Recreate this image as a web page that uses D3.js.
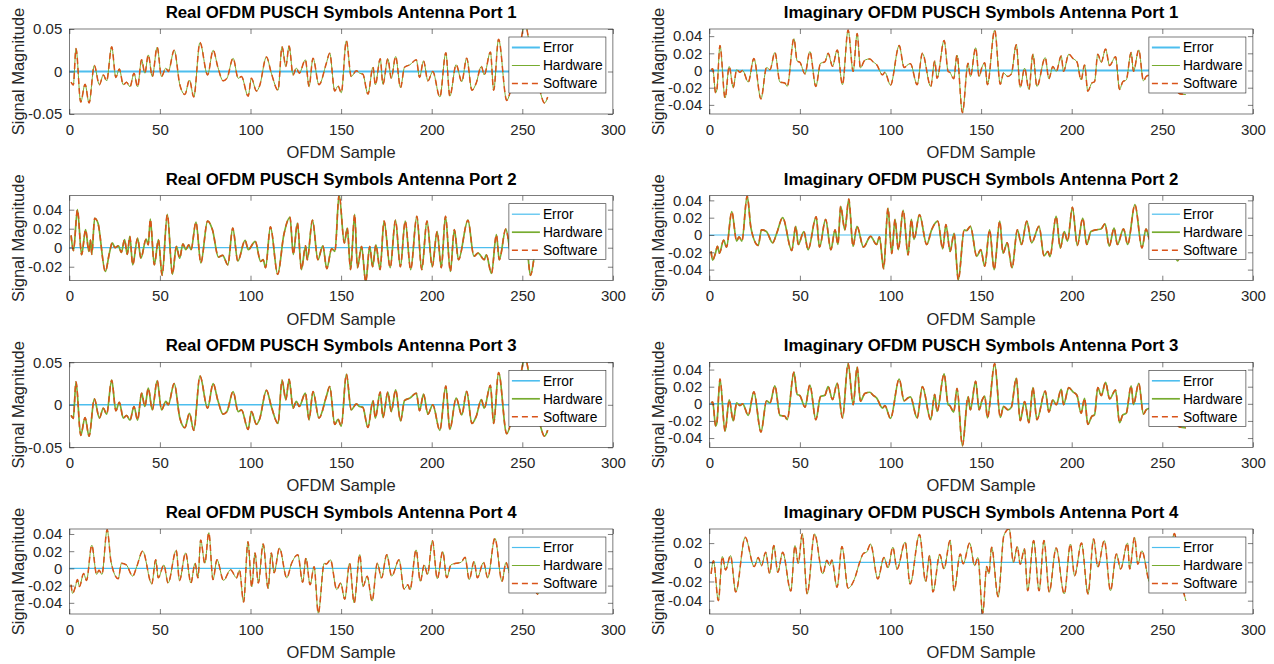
<!DOCTYPE html>
<html lang="en">

<head>
  <meta charset="UTF-8">
  <title>OFDM PUSCH symbols</title>
  <script src="https://d3js.org/d3.v7.min.js"></script>
  <style>
    body { margin: 0; background: #fff; }
    svg text { font-family: "Liberation Sans", Arial, Helvetica, sans-serif; }
  </style>
</head>

<body>
  <svg id="chart" width="1274" height="664"></svg>

  <script>
    // values: sample index and signal magnitude (hardware == software)
    const realPort1Sample = [1, 2.2, 3.7, 6.3, 8.7, 10.9, 13.8, 16.6, 18.8, 20.6, 23.4, 25.7, 27.6, 29.8, 31.6, 33.5, 35.7, 37.7, 39.9, 41.7, 43.6, 45.8, 48.5, 50.9, 53.3, 54.6, 57.9, 61, 63.8, 66.3, 68.7, 72.1, 76.3, 79.4, 82, 84.9, 87, 90.4, 93.2, 95, 98.7, 100.5, 103.3, 105, 108.8, 111.5, 115.2, 117.4, 119.5, 121.3, 123.5, 125.3, 126.9, 130.3, 132.3, 134.5, 137.8, 141.9, 143.7, 146.5, 148.3, 150.1, 152.9, 155.6, 158.4, 160.2, 162, 164.8, 167.6, 168.9, 171.6, 173.1, 175.8, 177.7, 180.1, 182.8, 185, 188, 191.5, 193.3, 195.5, 197.9, 200.6, 204.5, 207.8, 210, 213.5, 216.6, 219.3, 222.2, 224.5, 227.4, 229, 232.4, 234.2, 236.9, 241.4, 245, 248, 251.5, 254.5, 257, 259.5, 262.3, 264];
    const realPort1Value = [-0.0125, -0.016, 0.027, -0.036, -0.015, -0.037, 0.007, -0.0156, -0.004, -0.011, 0.029, -0.007, 0.003, -0.0156, -0.0125, -0.018, -0.002, -0.018, 0.0137, -0.002, 0.0195, -0.006, 0.0285, -0.006, 0.004, 0.0, 0.025, -0.0156, -0.027, -0.01, -0.03, 0.034, -0.004, 0.025, 0.005, -0.011, -0.008, 0.0156, -0.008, -0.006, -0.029, -0.008, -0.023, -0.017, 0.017, -0.002, -0.022, 0.029, 0.006, 0.030, -0.004, 0.004, -0.002, 0.0137, -0.0176, 0.0156, -0.0156, 0.01, 0.0215, -0.023, -0.017, -0.025, 0.036, -0.006, 0.001, -0.002, -0.003, -0.0266, 0.005, -0.0156, 0.015, -0.015, 0.015, -0.008, 0.0176, -0.019, 0.005, 0.008, 0.0137, -0.007, 0.0125, -0.011, 0.0, -0.030, 0.022, -0.029, 0.008, -0.012, 0.0157, -0.022, -0.014, 0.006, -0.004, 0.023, -0.022, 0.038, -0.034, -0.008, 0.02, 0.056, 0.025, 0.0, -0.021, -0.037, -0.03];

    const imagPort1Sample = [1, 1.9, 3.5, 4.2, 5.9, 8.7, 11, 13.2, 15.1, 16.9, 18.4, 21.5, 24.6, 28.5, 31.6, 33.5, 36.2, 39, 41.7, 43, 46.7, 48.5, 50, 52.8, 55.5, 58.8, 61.4, 63.8, 65.6, 68, 70.6, 73.5, 76.6, 79.4, 81.6, 83.4, 85.8, 88.6, 90.4, 92.3, 95.6, 96.9, 100, 104.8, 107.5, 109.7, 111, 114.7, 117.6, 122.2, 124.4, 125.7, 129.6, 131.8, 132.7, 134.9, 136.7, 139.7, 142.8, 144.1, 147, 148.9, 150.5, 152, 153.5, 157.5, 160.6, 162.4, 164.8, 166.7, 169.4, 171.6, 174, 176.4, 178.6, 180.8, 185.4, 187.4, 189.6, 191.5, 194.2, 195.5, 198.4, 200.7, 202.9, 205.2, 207.1, 208.9, 211.1, 212.6, 214.4, 216.3, 218.7, 220.9, 224.2, 226.4, 228.2, 230.1, 232.8, 234.1, 237, 239.6, 241.1, 244, 247, 250, 253, 256, 259.5, 263];
    const imagPort1Value = [0.001, 0.002, -0.026, -0.022, 0.029, -0.032, 0.0046, -0.02, 0.001, -0.002, 0.0, -0.0135, 0.014, -0.033, 0.0035, 0.001, 0.021, -0.0135, -0.0146, -0.0185, 0.037, 0.011, 0.0096, -0.004, 0.022, -0.0185, 0.0085, 0.010, 0.020, 0.005, 0.024, -0.0165, 0.047, -0.001, 0.043, 0.003, 0.012, 0.0135, 0.010, 0.007, -0.005, -0.002, -0.017, 0.029, 0.0035, 0.007, 0.008, -0.0165, 0.02, -0.0185, 0.011, -0.009, 0.035, -0.001, -0.002, -0.0096, 0.018, -0.049, 0.0085, -0.007, 0.0265, -0.007, 0.004, 0.009, -0.0165, 0.047, -0.016, -0.003, -0.007, -0.004, 0.030, -0.0196, 0.0027, -0.022, 0.019, -0.0185, 0.015, -0.0096, 0.0046, -0.001, 0.017, -0.001, 0.019, 0.014, 0.010, -0.011, 0.0065, -0.024, -0.0146, -0.013, 0.019, 0.0096, 0.025, 0.0058, 0.016, -0.022, -0.013, -0.011, 0.021, -0.001, 0.024, -0.012, -0.007, -0.004, 0.01, -0.005, 0.008, -0.012, -0.027, -0.028];

    const realPort2Sample = [1, 2.3, 4.5, 6.8, 9, 10.8, 11.7, 12.4, 14, 15.8, 19.9, 22.1, 23.7, 25.3, 27.1, 28.7, 30.5, 32, 33.4, 35, 37.7, 39.5, 42.4, 43.6, 44.7, 46.9, 49.2, 51.2, 54.1, 56.9, 59.1, 60.9, 62.7, 64.3, 65.9, 67.2, 69.9, 72.6, 76.3, 79, 82.3, 84.6, 87.5, 90.2, 93, 97, 98.8, 102.6, 105.6, 107, 108.3, 111, 115, 118.4, 121.8, 123.6, 125.9, 128.1, 130.4, 131.3, 134.2, 137.2, 139.9, 142.1, 144.8, 146.6, 148.9, 151.8, 153.4, 155.2, 157.5, 159, 161.3, 163.6, 165.8, 167.4, 169.2, 171.5, 173.7, 177.1, 180, 182.7, 185.4, 188.4, 191.8, 194.5, 197.4, 200.3, 203, 205.3, 207.6, 210.3, 212.5, 214.8, 220, 223.3, 225.6, 229, 230.1, 233, 235.7, 237.3, 240.9, 244, 247, 250, 252.2, 254.5, 256.5];
    const realPort2Value = [0.013, -0.003, 0.040, -0.0074, 0.019, -0.004, 0.008, -0.007, 0.031, 0.026, -0.025, -0.006, 0.005, 0.0, 0.002, -0.005, 0.0084, -0.007, 0.012, -0.018, 0.010, -0.011, 0.009, 0.003, 0.030, -0.018, 0.0084, -0.029, 0.035, -0.028, 0.0014, -0.011, 0.004, -0.002, 0.003, -0.002, 0.027, -0.016, 0.028, 0.019, -0.0098, -0.008, -0.018, 0.0207, -0.014, 0.0077, -0.002, 0.0067, -0.0144, -0.0126, -0.021, 0.022, -0.028, 0.0137, 0.032, -0.007, 0.026, -0.023, 0.002, -0.0126, 0.029, -0.0126, 0.002, -0.022, -0.001, -0.004, 0.056, 0.005, 0.0207, -0.023, 0.035, -0.021, 0.0014, -0.036, 0.0014, -0.02, 0.003, -0.023, 0.028, -0.021, 0.029, -0.02, 0.028, -0.023, 0.033, -0.023, 0.028, -0.02, 0.017, -0.021, 0.033, -0.025, 0.019, -0.0126, 0.029, -0.009, -0.0056, -0.0126, -0.0074, -0.027, 0.0137, -0.0126, 0.0197, -0.008, 0.012, -0.005, 0.004, -0.029, -0.01];

    const imagPort2Sample = [1, 1.8, 3.4, 4.5, 5.6, 7.9, 9.5, 12.4, 15.1, 16.4, 18, 20.9, 23, 27, 28.8, 31.5, 35, 37.2, 40.5, 45.5, 47.7, 49.1, 52.2, 54.5, 59, 60.8, 64.2, 67.1, 69.4, 71, 72.5, 74.8, 77, 79.3, 81.5, 85.1, 89, 92.3, 93.9, 96.2, 98.6, 100.7, 102.5, 104.3, 107, 109.7, 111.5, 113, 116, 120, 122.7, 126.1, 128.8, 130.6, 132.9, 135.1, 137.4, 140.7, 141.9, 144.1, 147.6, 149.8, 152, 154.7, 157.2, 160.3, 162.1, 164.4, 167.1, 170, 172.3, 175.2, 177.9, 182, 184.7, 186.9, 188, 191.4, 193.7, 195.9, 197.7, 200.4, 203.1, 206.1, 208.3, 210.6, 213.5, 216.2, 218.4, 220.7, 223.4, 225.2, 228.6, 230.9, 234.9, 238.8, 241, 243.2, 246, 249, 252, 255, 258.5, 260];
    const imagPort2Value = [-0.019, -0.029, -0.021, -0.013, -0.021, -0.006, -0.014, 0.027, -0.007, -0.002, -0.007, 0.045, 0.008, -0.012, 0.006, 0.004, -0.009, 0.002, 0.020, -0.018, 0.010, -0.011, 0.004, -0.017, 0.021, -0.014, 0.018, -0.017, 0.006, -0.011, 0.033, 0.006, 0.0415, -0.013, 0.010, -0.014, -0.0015, -0.011, -0.002, -0.039, 0.031, -0.0215, 0.018, -0.017, 0.0285, -0.023, 0.018, -0.005, 0.0235, -0.011, 0.006, 0.016, -0.016, 0.012, -0.019, 0.002, -0.052, 0.006, 0.005, 0.010, -0.0246, -0.017, -0.036, 0.006, -0.040, 0.016, -0.021, -0.009, -0.038, 0.006, -0.011, 0.016, -0.009, 0.010, -0.024, -0.019, -0.025, 0.0215, -0.015, 0.004, -0.007, 0.032, -0.012, 0.0196, -0.011, 0.004, 0.006, 0.007, 0.013, -0.013, 0.008, -0.011, 0.007, -0.011, 0.035, -0.015, 0.007, -0.006, 0.005, -0.012, 0.004, -0.01, -0.030, -0.02];

    const imagPort4Sample = [1, 2.3, 5, 7.2, 9, 11.7, 14.6, 19.8, 24.8, 27, 28.8, 31.1, 33.3, 35.6, 37.8, 40.5, 45, 47.3, 49.1, 51.3, 54, 58.1, 62.6, 64.9, 66.4, 67.6, 70.5, 73.2, 76.6, 80, 83, 85.1, 86.7, 89, 93, 96.4, 98.6, 101.3, 103.6, 108.1, 110.8, 116, 119.4, 121.6, 123.4, 127.2, 129.5, 132.9, 135.1, 138.5, 140.1, 143.7, 146.4, 148.2, 150.9, 153.1, 154.3, 155.8, 159.4, 162.6, 165.5, 167.8, 170, 171.6, 173.9, 175.7, 179, 182, 184.7, 187.6, 191.4, 195.9, 199.3, 201.6, 205.4, 209, 212.1, 214.4, 218, 221.4, 224.7, 227, 230.8, 232, 234.7, 236.5, 238.7, 243.2, 246, 249, 252, 254, 256.7, 259.5, 263];
    const imagPort4Value = [-0.012, 0.0017, -0.040, 0.006, -0.008, 0.007, -0.031, 0.026, -0.0045, 0.005, -0.0035, 0.0104, -0.0115, 0.0174, -0.0104, 0.0104, -0.030, 0.0174, -0.001, 0.0296, -0.033, 0.0296, -0.012, 0.002, -0.0035, 0.0024, -0.026, 0.0164, -0.027, -0.018, 0.0, 0.0094, 0.0104, 0.019, -0.0174, 0.005, -0.006, 0.0157, -0.007, 0.021, -0.0226, 0.029, -0.020, 0.007, -0.031, 0.008, -0.007, 0.0226, -0.0296, 0.0087, -0.0017, 0.020, -0.0035, 0.005, -0.053, -0.0045, -0.012, 0.0157, -0.036, 0.028, 0.035, 0.0, 0.0164, -0.002, 0.014, -0.0296, 0.0226, -0.0296, 0.0226, -0.031, 0.015, -0.033, 0.019, -0.014, 0.020, -0.033, 0.0244, -0.005, 0.0226, -0.0296, 0.0087, -0.007, 0.020, -0.007, 0.026, -0.002, 0.012, -0.021, -0.005, 0.008, -0.012, 0.005, 0.030, -0.01, -0.040];

    // ports 3 match ports 1, and real port 4 matches imaginary port 2 in the picture
    const realPort3Sample = realPort1Sample, realPort3Value = realPort1Value;
    const imagPort3Sample = imagPort1Sample, imagPort3Value = imagPort1Value;
    const realPort4Sample = imagPort2Sample, realPort4Value = imagPort2Value;

    // error between hardware and software: flat zero
    const errorSample = [0, 264];
    const errorValue = [0, 0];

    const xTicks = [0, 50, 100, 150, 200, 250, 300];
    const ticks05 = [-0.05, 0, 0.05];
    const ticks04 = [-0.04, -0.02, 0, 0.02, 0.04];
    const ticksR2 = [-0.02, 0, 0.02, 0.04];
    const ticksI4 = [-0.04, -0.02, 0, 0.02];

    const titles = [
      "Real OFDM PUSCH Symbols Antenna Port 1", "Imaginary OFDM PUSCH Symbols Antenna Port 1",
      "Real OFDM PUSCH Symbols Antenna Port 2", "Imaginary OFDM PUSCH Symbols Antenna Port 2",
      "Real OFDM PUSCH Symbols Antenna Port 3", "Imaginary OFDM PUSCH Symbols Antenna Port 3",
      "Real OFDM PUSCH Symbols Antenna Port 4", "Imaginary OFDM PUSCH Symbols Antenna Port 4"
    ];
    const legendLabels = ["Error", "Hardware", "Software"];

    const panels = [
      { xs: realPort1Sample, ys: realPort1Value, dom: [-0.05, 0.05], ticks: ticks05 },
      { xs: imagPort1Sample, ys: imagPort1Value, dom: [-0.0506, 0.0483], ticks: ticks04 },
      { xs: realPort2Sample, ys: realPort2Value, dom: [-0.0347, 0.0547], ticks: ticksR2 },
      { xs: imagPort2Sample, ys: imagPort2Value, dom: [-0.0528, 0.0454], ticks: ticks04 },
      { xs: realPort3Sample, ys: realPort3Value, dom: [-0.05, 0.05], ticks: ticks05 },
      { xs: imagPort3Sample, ys: imagPort3Value, dom: [-0.0508, 0.0485], ticks: ticks04 },
      { xs: realPort4Sample, ys: realPort4Value, dom: [-0.053, 0.0458], ticks: ticks04 },
      { xs: imagPort4Sample, ys: imagPort4Value, dom: [-0.0539, 0.0347], ticks: ticksI4 }
    ];

    // layout
    const colLeft = [69.3, 709.3];
    const rowTop = [29, 195.7, 362.3, 529];
    const axW = 543.6, axH = 85;
    const errW = [2, 1.2, 1.6, 1.2];
    const hwW = [1, 1.7, 1.7, 1];
    const cErr = "#4DBEEE", cHw = "#77AC30", cSw = "#D95319", cAx = "#262626";

    const svg = d3.select("#chart");

    panels.forEach((p, i) => {
      const row = Math.floor(i / 2), col = i % 2;
      const g = svg.append("g").attr("transform", `translate(${colLeft[col]},${rowTop[row]})`);

      const x = d3.scaleLinear().domain([0, 300]).range([0, axW]);
      const y = d3.scaleLinear().domain(p.dom).range([axH, 0]);

      g.append("rect").attr("width", axW).attr("height", axH).attr("fill", "#fff");

      g.append("clipPath").attr("id", "clip" + i)
        .append("rect").attr("width", axW).attr("height", axH);

      const pts = p.xs.map((d, k) => [d, p.ys[k]]);
      const errPts = errorSample.map((d, k) => [d, errorValue[k]]);
      const line = d3.line().x(d => x(d[0])).y(d => y(d[1])).curve(d3.curveMonotoneX);

      const plot = g.append("g").attr("clip-path", `url(#clip${i})`);
      plot.append("path").attr("d", line(errPts)).attr("fill", "none")
        .attr("stroke", cErr).attr("stroke-width", errW[row]);
      plot.append("path").attr("d", line(pts)).attr("fill", "none")
        .attr("stroke", cHw).attr("stroke-width", hwW[row]);
      plot.append("path").attr("d", line(pts)).attr("fill", "none")
        .attr("stroke", cSw).attr("stroke-width", 1.5).attr("stroke-dasharray", "6,4");

      // axes, ticks pointing inward on all four sides
      g.append("g").attr("transform", `translate(0,${axH})`)
        .call(d3.axisBottom(x).tickValues(xTicks).tickSize(-5).tickPadding(10));
      g.append("g").call(d3.axisTop(x).tickValues(xTicks).tickSize(-5).tickFormat(""));
      g.append("g")
        .call(d3.axisLeft(y).tickValues(p.ticks).tickSize(-5).tickPadding(7).tickFormat(d => d === 0 ? "0" : d));
      g.append("g").attr("transform", `translate(${axW},0)`)
        .call(d3.axisRight(y).tickValues(p.ticks).tickSize(-5).tickFormat(""));

      g.selectAll(".domain").remove();
      g.selectAll(".tick line").attr("stroke", cAx).attr("stroke-width", 0.6);
      g.selectAll(".tick text").attr("fill", cAx).style("font-size", "15px");

      g.append("rect").attr("width", axW).attr("height", axH).attr("fill", "none")
        .attr("stroke", cAx).attr("stroke-width", 0.6);

      g.append("text").attr("x", axW / 2).attr("y", -11).attr("text-anchor", "middle")
        .style("font-size", "16.8px").style("font-weight", "bold").attr("fill", "#000")
        .text(titles[i]);
      g.append("text").attr("x", axW / 2).attr("y", axH + 44).attr("text-anchor", "middle")
        .style("font-size", "16.5px").attr("fill", cAx).text("OFDM Sample");
      g.append("text").attr("transform", `translate(-45,${axH / 2}) rotate(-90)`)
        .attr("text-anchor", "middle").style("font-size", "16.5px").attr("fill", cAx)
        .text("Signal Magnitude");

      // legend
      const lg = g.append("g").attr("transform", `translate(${axW - 104},8)`);
      lg.append("rect").attr("width", 97).attr("height", 56).attr("fill", "#fff")
        .attr("stroke", cAx).attr("stroke-width", 0.6);
      const styles = [
        { c: cErr, w: errW[row], dash: null },
        { c: cHw, w: hwW[row], dash: null },
        { c: cSw, w: 1.5, dash: "6,4" }
      ];
      legendLabels.forEach((lab, k) => {
        const yy = 10.5 + k * 18;
        lg.append("line").attr("x1", 3).attr("x2", 31).attr("y1", yy).attr("y2", yy)
          .attr("stroke", styles[k].c).attr("stroke-width", styles[k].w)
          .attr("stroke-dasharray", styles[k].dash);
        lg.append("text").attr("x", 34).attr("y", yy).attr("dy", "0.35em")
          .style("font-size", "13.8px").attr("fill", "#000").text(lab);
      });
    });
  </script>
</body>

</html>
